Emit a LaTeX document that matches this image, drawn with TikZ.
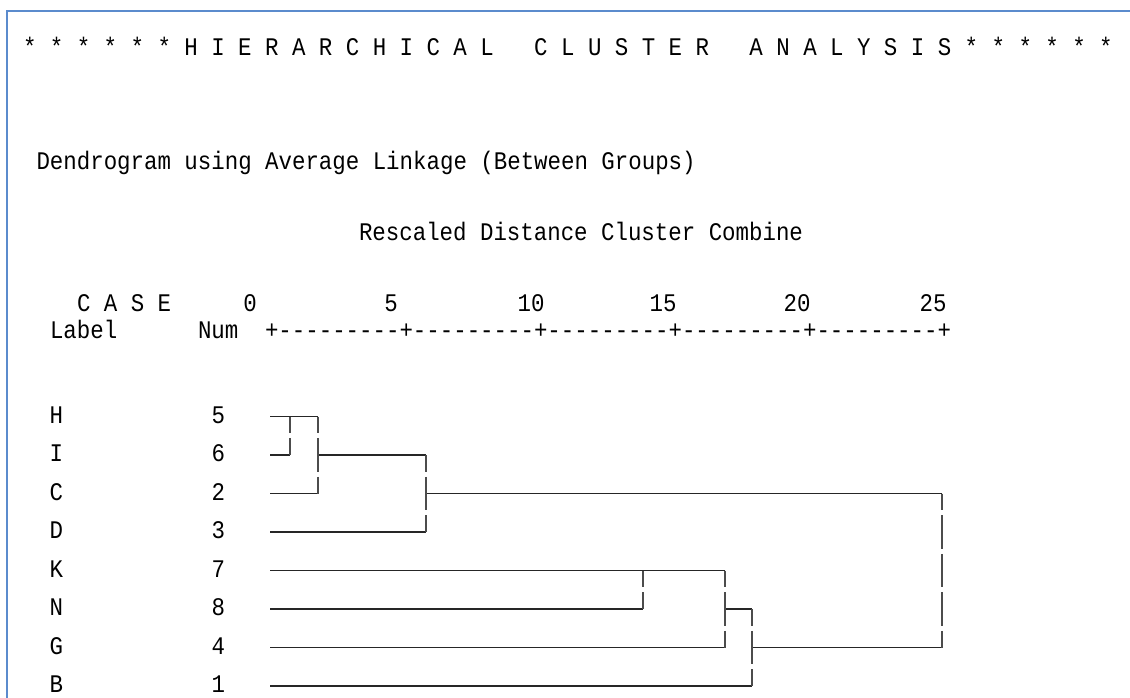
\documentclass[tikz,border=0pt]{standalone}
\usepackage{fontspec}
\setmonofont[FakeStretch=0.885]{Liberation Mono}
\begin{document}
\begin{tikzpicture}[x=0.75pt,y=-0.75pt]
\tikzset{
  txt/.style={inner sep=0pt,outer sep=0pt,anchor=base west,font=\fontsize{19}{19}\selectfont\ttfamily,text=black},
  numtxt/.style={txt,anchor=base},
  hline/.style={draw=black!85,line width=1.1pt},
  vline/.style={draw=black!70,line width=1.1pt,dash pattern=on 25.125pt off 3.75pt,dash phase=12.5625pt},
  frameline/.style={draw=blue!45!cyan!60!black!70!white,line width=1.5pt}
}
\useasboundingbox (0,0) rectangle (1130,698);
\fill[white] (0,0) rectangle (1130,698);
% frame (top and left edges)
\coordinate (fbl) at (7,698);
\coordinate (ftl) at (7,11);
\coordinate (ftr) at (1130,11);
\draw[draw={rgb,255:red,91;green,139;blue,205},line width=1.5pt] (fbl) -- (ftl) -- (ftr);

% header texts
\node[txt] (title) at (23,56) {*~*~*~*~*~*~H~I~E~R~A~R~C~H~I~C~A~L~~~C~L~U~S~T~E~R~~~A~N~A~L~Y~S~I~S~*~*~*~*~*~*};
\node[txt] (dendro) at (36.5,170) {Dendrogram using Average Linkage (Between Groups)};
\node[txt] (resc) at (359,241) {Rescaled Distance Cluster Combine};
\node[txt] (case) at (77,311) {C~A~S~E};
\node[numtxt] (t0) at (250,311) {0};
\node[numtxt] (t5) at (391,311) {5};
\node[numtxt] (t10) at (531,311) {10};
\node[numtxt] (t15) at (663,311) {15};
\node[numtxt] (t20) at (797,311) {20};
\node[numtxt] (t25) at (933,311) {25};
\node[txt] (label) at (50,338) {Label};
\node[txt] (num) at (198,338) {Num};
\node[txt] (axis) at (265,338) {+---------+---------+---------+---------+---------+};

% leaves
\foreach \l/\n/\i in {H/5/0,I/6/1,C/2/2,D/3/3,K/7/4,N/8/5,G/4/6,B/1/7}{
  \node[txt] (lbl\l) at (49.5,{423+38.5*\i}) {\l};
  \node[txt] (num\l) at (211.5,{423+38.5*\i}) {\n};
  \coordinate (s\l) at (270,{416.5+38.5*\i});
}
% join points
\coordinate (aH) at (290,416.5);  \coordinate (aI) at (290,455);
\coordinate (bH) at (318,416.5);  \coordinate (bI) at (318,455);  \coordinate (bC) at (318,493.5);
\coordinate (cI) at (426,455);    \coordinate (cC) at (426,493.5); \coordinate (cD) at (426,532);
\coordinate (dK) at (643,570.5);  \coordinate (dN) at (643,609);
\coordinate (eK) at (725,570.5);  \coordinate (eN) at (725,609);  \coordinate (eG) at (725,647.5);
\coordinate (fN) at (752,609);    \coordinate (fG) at (752,647.5); \coordinate (fB) at (752,686);
\coordinate (gC) at (942,493.5);  \coordinate (gG) at (942,647.5);

% horizontal lines
\draw[hline] (sH) -- (bH);
\draw[hline] (sI) -- (aI);
\draw[hline] (bI) -- (cI);
\draw[hline] (sC) -- (bC);
\draw[hline] (cC) -- (gC);
\draw[hline] (sD) -- (cD);
\draw[hline] (sK) -- (eK);
\draw[hline] (sN) -- (dN);
\draw[hline] (eN) -- (fN);
\draw[hline] (sG) -- (eG);
\draw[hline] (fG) -- (gG);
\draw[hline] (sB) -- (fB);
% vertical lines
\draw[vline] (aH) -- (aI);
\draw[vline] (bH) -- (bC);
\draw[vline] (cI) -- (cD);
\draw[vline] (dK) -- (dN);
\draw[vline] (eK) -- (eG);
\draw[vline] (fN) -- (fB);
\draw[vline] (gC) -- (gG);
\end{tikzpicture}
\end{document}
